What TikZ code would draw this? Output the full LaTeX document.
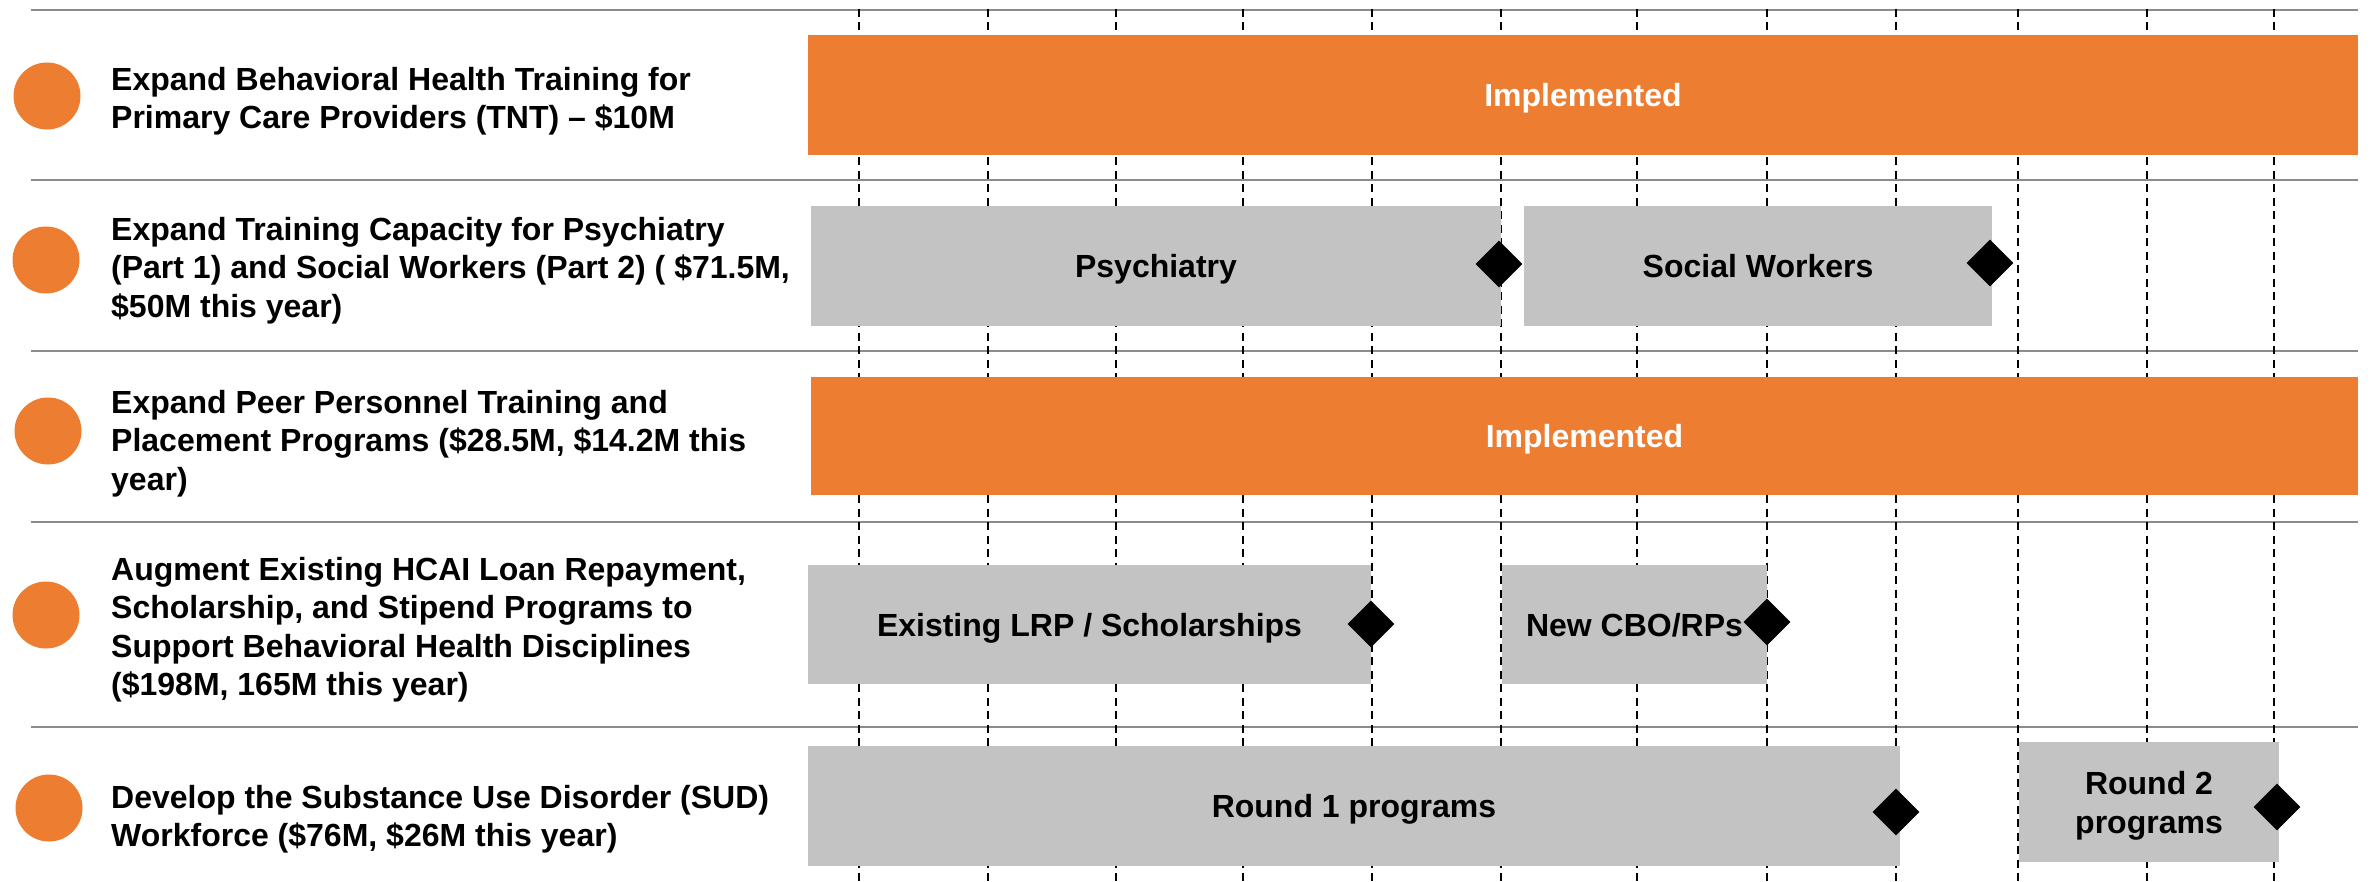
\documentclass[tikz,border=0pt]{standalone}
\usepackage{fontspec}
\setmainfont{Liberation Sans}
\usetikzlibrary{shapes.geometric}
\definecolor{accent}{HTML}{ED7D31}
\definecolor{bargray}{HTML}{C4C3C4}
\definecolor{rulegray}{HTML}{8C8C8C}
\begin{document}
\begin{tikzpicture}[x=1pt,y=-1pt,
  lab/.style={font=\fontsize{32}{38.5}\selectfont\bfseries},
  dot/.style={circle, fill=accent, minimum size=67pt, inner sep=0pt},
  item/.style={lab, anchor=north west, inner sep=0pt, align=left},
  rowrule/.style={draw=rulegray, line width=1.6pt},
  toprule/.style={draw=rulegray, line width=2.6pt},
  grid/.style={draw=black, line width=2pt, dash pattern=on 8pt off 5.5pt},
  bar/.style={inner sep=0pt, lab, text height=23pt, text depth=0pt},
  donebar/.style={bar, fill=accent, text=white},
  workbar/.style={bar, fill=bargray, text=black},
  mile/.style={diamond, fill=black, inner sep=0pt, minimum width=47pt, minimum height=47pt},
]
\useasboundingbox (0,0) rectangle (2372,882);

% row separators
\draw[toprule] (31,10) -- (2358,10);
\foreach \y in {180,351,522,727}
  \draw[rowrule] (31,\y) -- (2358,\y);

% quarter grid
\foreach \x in {859,988,1116,1243,1372,1501,1637,1767,1896,2018,2147,2274}
  \draw[grid] (\x,9) -- (\x,882);

% bullets and item titles
\node[dot] (c1) at (47,96) {};
\node[dot] (c2) at (46,260) {};
\node[dot] (c3) at (48,431) {};
\node[dot] (c4) at (46,615) {};
\node[dot] (c5) at (49,808) {};

\node[item] (t1) at (111,67) {Expand Behavioral Health Training for\\Primary Care Providers (TNT) -- \$10M};
\node[item] (t2) at (111,217) {Expand Training Capacity for Psychiatry\\(Part 1) and Social Workers (Part 2) ( \$71.5M,\\\$50M this year)};
\node[item] (t3) at (111,390) {Expand Peer Personnel Training and\\Placement Programs (\$28.5M, \$14.2M this\\year)};
\node[item] (t4) at (111,557) {Augment Existing HCAI Loan Repayment,\\Scholarship, and Stipend Programs to\\Support Behavioral Health Disciplines\\(\$198M, 165M this year)};
\node[item] (t5) at (111,785) {Develop the Substance Use Disorder (SUD)\\Workforce (\$76M, \$26M this year)};

% timeline bars
\node[donebar, minimum width=1550pt, minimum height=120pt] (b1) at (1583,95) {Implemented};
\node[workbar, minimum width=690pt, minimum height=120pt] (psy) at (1156,266) {Psychiatry};
\node[workbar, minimum width=468pt, minimum height=120pt] (soc) at (1758,266) {Social Workers};
\node[donebar, minimum width=1547pt, minimum height=118pt] (b3) at (1584.5,436) {Implemented};
\node[workbar, minimum width=563pt, minimum height=119pt] (lrp) at (1089.5,624.5) {Existing LRP / Scholarships};
\node[workbar, minimum width=265pt, minimum height=119pt] (cbo) at (1634.5,624.5) {New CBO/RPs};
\node[workbar, minimum width=1092pt, minimum height=120pt] (r1) at (1354,806) {Round 1 programs};
\node[workbar, minimum width=260pt, minimum height=120pt] (r2) at (2149,802) {};
\node[lab, align=center, anchor=north, inner sep=0pt] (r2t) at (2149,771.5) {Round 2\\programs};

% milestones
\node[mile] (m1) at (1499,264) {};
\node[mile] (m2) at (1990,263) {};
\node[mile] (m3) at (1371,624) {};
\node[mile] (m4) at (1767,622) {};
\node[mile] (m5) at (1896,812) {};
\node[mile] (m6) at (2277,807) {};
\end{tikzpicture}
\end{document}
